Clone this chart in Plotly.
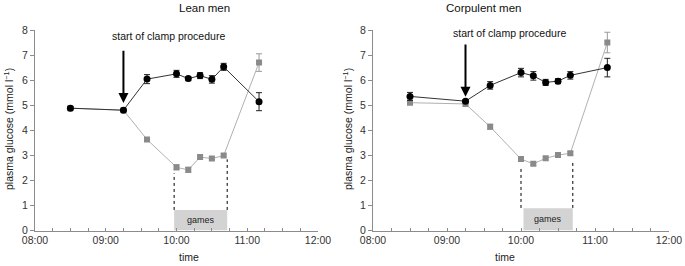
import datetime as _dt
import plotly.graph_objects as go

DAY = "2000-01-01 "
times = ["08:30", "09:15", "09:35", "10:00", "10:10", "10:20", "10:30", "10:40", "11:10"]

lean_black = [4.88, 4.80, 6.04, 6.25, 6.06, 6.18, 6.03, 6.53, 5.14]
lean_black_err = [0.05, 0.04, 0.18, 0.14, 0.08, 0.12, 0.15, 0.14, 0.36]
lean_gray = [4.88, 4.80, 3.63, 2.52, 2.42, 2.93, 2.87, 2.99, 6.70]
lean_gray_err = [0.04, 0.04, 0.08, 0.10, 0.10, 0.06, 0.05, 0.06, 0.35]

corp_black = [5.35, 5.16, 5.79, 6.30, 6.17, 5.91, 5.96, 6.19, 6.50]
corp_black_err = [0.16, 0.06, 0.15, 0.17, 0.17, 0.12, 0.10, 0.15, 0.37]
corp_gray = [5.10, 5.05, 4.14, 2.85, 2.66, 2.88, 3.01, 3.08, 7.50]
corp_gray_err = [0.05, 0.04, 0.10, 0.08, 0.06, 0.06, 0.06, 0.06, 0.41]

panel_titles = ["Lean men", "Corpulent men"]
x_ticks = ["08:00", "09:00", "10:00", "11:00", "12:00"]
y_ticks = [0, 1, 2, 3, 4, 5, 6, 7, 8]

# games period (box and dotted guide lines), per panel
games_box = [("09:58", "10:43"), ("10:02", "10:42")]
games_lines = [("09:58", "10:43"), ("10:00", "10:42")]
games_line_top = [(2.28, 2.84), (2.48, 2.74)]
games_line_bottom = [0.82, 0.90]
games_box_top = [0.82, 0.89]
clamp_start = "09:15"
arrow_tip = [5.09, 5.34]
arrow_tail = [7.23, 7.48]
clamp_label_x = ["09:53", "09:51"]
clamp_label_y = [7.77, 7.87]

FONT = "Arial, Liberation Sans, sans-serif"
W, H = 685, 266

x = [DAY + t for t in times]


def _mid(a, b):
    ta = _dt.datetime.strptime(DAY + a, "%Y-%m-%d %H:%M")
    tb = _dt.datetime.strptime(DAY + b, "%Y-%m-%d %H:%M")
    return (ta + (tb - ta) / 2).strftime("%Y-%m-%d %H:%M:%S")


fig = go.Figure()

panels = [
    (lean_black, lean_black_err, lean_gray, lean_gray_err),
    (corp_black, corp_black_err, corp_gray, corp_gray_err),
]
xdomains = [[35 / W, 318 / W], [373 / W, 669 / W]]
ydomain = [(H - 230.5) / H, (H - 30) / H]

for i, (b, be, g, ge) in enumerate(panels):
    xa = "x" if i == 0 else "x2"
    ya = "y" if i == 0 else "y2"
    fig.add_trace(go.Scatter(
        x=x, y=g, mode="lines+markers", xaxis=xa, yaxis=ya,
        line=dict(color="#b0b0b0", width=1),
        marker=dict(symbol="square", size=6, color="#8a8a8a"),
        error_y=dict(type="data", array=ge, color="#9a9a9a", thickness=1, width=3),
        showlegend=False, hoverinfo="skip"))
    fig.add_trace(go.Scatter(
        x=x, y=b, mode="lines+markers", xaxis=xa, yaxis=ya,
        line=dict(color="#333333", width=1),
        marker=dict(symbol="circle", size=7, color="#000000"),
        error_y=dict(type="data", array=be, color="#222222", thickness=1, width=3),
        showlegend=False, hoverinfo="skip"))

axis_common = dict(showgrid=False, zeroline=False, showline=True, automargin=False,
                   linecolor="#8c8c8c", linewidth=1,
                   tickfont=dict(family=FONT, size=10.5, color="#333333"))

for i in range(2):
    sfx = "" if i == 0 else "2"
    fig.update_layout(**{
        "xaxis" + sfx: dict(
            axis_common, domain=xdomains[i], type="date",
            range=[DAY + "08:00", DAY + "12:00"],
            tickvals=[DAY + t for t in x_ticks], ticktext=x_ticks,
            ticks="inside", ticklen=3, tickcolor="#8c8c8c",
            minor=dict(dtick=15 * 60 * 1000, ticks="inside", ticklen=3, tickcolor="#8c8c8c"),
            anchor="y" + sfx),
        "yaxis" + sfx: dict(
            axis_common, domain=ydomain, range=[0, 8],
            tickvals=y_ticks, ticks="outside", ticklen=4, tickcolor="#8c8c8c",
            anchor="x" + sfx),
    })

shapes = []
annotations = []
for i in range(2):
    xr = "x" if i == 0 else "x2"
    yr = "y" if i == 0 else "y2"
    gb0, gb1 = games_box[i]
    shapes.append(dict(type="rect", xref=xr, yref=yr, x0=DAY + gb0, x1=DAY + gb1,
                       y0=0, y1=games_box_top[i], fillcolor="#d3d3d3",
                       line=dict(width=0), layer="below"))
    for j, t in enumerate(games_lines[i]):
        shapes.append(dict(type="line", xref=xr, yref=yr, x0=DAY + t, x1=DAY + t,
                           y0=games_line_bottom[i], y1=games_line_top[i][j],
                           line=dict(color="#000000", width=1, dash="dot")))
    annotations.append(dict(xref=xr, yref=yr, x=_mid(gb0, gb1), y=games_box_top[i] / 2,
                            text="games", showarrow=False,
                            font=dict(family=FONT, size=9, color="#222222")))
    # arrow
    annotations.append(dict(xref=xr, yref=yr, x=DAY + clamp_start, y=arrow_tip[i],
                            axref=xr, ayref=yr, ax=DAY + clamp_start, ay=arrow_tail[i],
                            text="", showarrow=True, arrowhead=2, arrowsize=1,
                            arrowwidth=2, arrowcolor="#000000"))
    annotations.append(dict(xref=xr, yref=yr, x=DAY + clamp_label_x[i], y=clamp_label_y[i],
                            text="start of clamp procedure", showarrow=False,
                            font=dict(family=FONT, size=10.5, color="#111111")))
    annotations.append(dict(xref="paper", yref="paper", x=[176.7 / W, 522.7 / W][i],
                            y=(H - 8) / H, text=panel_titles[i], showarrow=False,
                            yanchor="middle",
                            font=dict(family=FONT, size=11.5, color="#111111")))
    annotations.append(dict(xref="paper", yref="paper", x=[176.7 / W, 516.7 / W][i],
                            y=(H - 257) / H, text="time", showarrow=False,
                            yanchor="middle",
                            font=dict(family=FONT, size=10.5, color="#222222")))
    annotations.append(dict(xref="paper", yref="paper", x=[8 / W, 347 / W][i],
                            y=(H - 129) / H, text="plasma glucose (mmol l<sup>−1</sup>)",
                            showarrow=False, textangle=-90, xanchor="center", yanchor="middle",
                            font=dict(family=FONT, size=10.5, color="#222222")))

fig.update_layout(shapes=shapes, annotations=annotations,
                  width=W, height=H, margin=dict(l=0, r=0, t=0, b=0),
                  paper_bgcolor="white", plot_bgcolor="white",
                  font=dict(family=FONT), hovermode=False)

fig.write_html("out.html", config={"displayModeBar": False, "staticPlot": True},
               post_script="document.body.style.margin='0';document.body.style.overflow='hidden';")
